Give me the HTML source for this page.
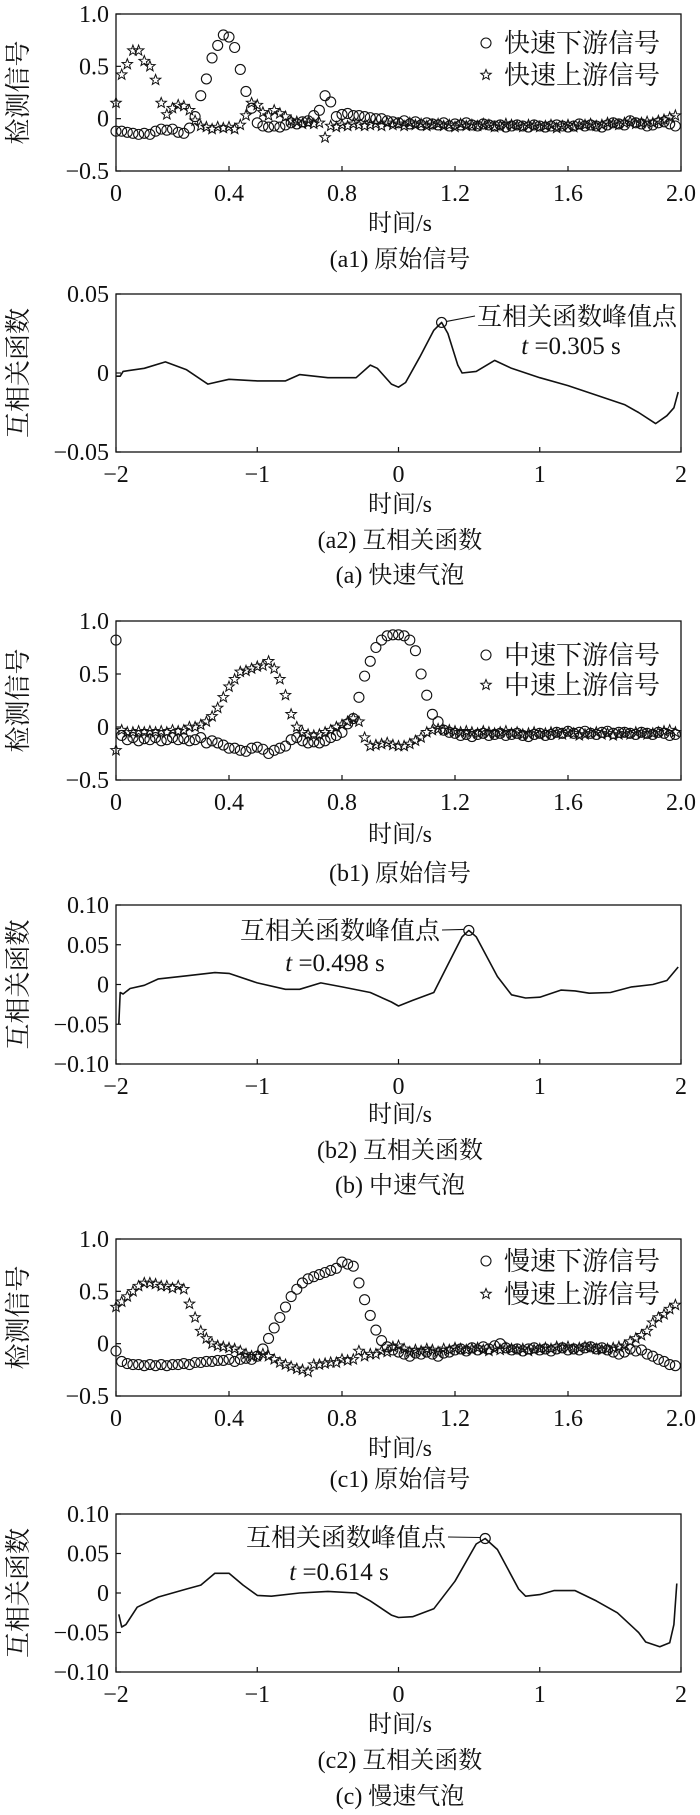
<!DOCTYPE html>
<html><head><meta charset="utf-8">
<style>
html,body{margin:0;padding:0;background:#fff;}
svg{display:block;}
text{font-family:"Liberation Serif","Noto Serif CJK SC",serif;fill:#111;}
</style></head>
<body>
<svg id="fig" width="700" height="1815" viewBox="0 0 700 1815" xmlns="http://www.w3.org/2000/svg"></svg>
<script>
// ---- data ----
const sigTimeStep = 0.02;
const fastDown = [-0.12,-0.12,-0.13,-0.14,-0.15,-0.14,-0.15,-0.12,-0.1,-0.11,-0.1,-0.13,-0.14,-0.09,
0.02,0.22,0.38,0.58,0.70,0.80,0.78,0.68,0.47,0.26,0.10,-0.04,
-0.07,-0.08,-0.07,-0.08,-0.06,-0.04,-0.05,-0.03,-0.02,
0.03,0.08,0.22,0.16,0.02,0.04,0.05,0.03,0.03,0.02,
0.01,0.0,0.0,-0.02,-0.03,-0.04,-0.02,-0.05,-0.03,-0.06,-0.04,-0.05,-0.06,-0.04,-0.07,-0.05,-0.06,-0.04,-0.06,-0.07,-0.05,-0.06,-0.07,-0.06,-0.08,-0.07,-0.06,-0.07,-0.08,-0.06,-0.07,-0.08,-0.07,-0.06,-0.07,-0.08,-0.07,-0.05,-0.07,-0.06,-0.07,-0.08,-0.06,-0.04,-0.05,-0.06,-0.02,-0.04,-0.05,-0.07,-0.06,-0.04,-0.03,-0.05,-0.07];
const fastUp = [0.15,0.42,0.52,0.65,0.65,0.55,0.5,0.37,0.15,0.04,0.1,0.13,0.12,0.08,
-0.02,-0.07,-0.08,-0.1,-0.08,-0.09,-0.08,-0.1,-0.06,0.03,0.15,0.13,
0.06,0.03,0.08,0.05,0.02,-0.02,-0.03,-0.05,-0.04,-0.05,-0.04,-0.18,-0.07,-0.08,-0.06,-0.07,-0.05,-0.06,-0.07,
-0.06,-0.05,-0.07,-0.04,-0.06,-0.05,-0.07,-0.04,-0.06,-0.05,-0.07,-0.06,-0.05,-0.07,-0.06,-0.08,-0.05,-0.07,-0.06,-0.07,-0.05,-0.06,-0.08,-0.07,-0.05,-0.06,-0.07,-0.08,-0.06,-0.07,-0.08,-0.07,-0.06,-0.09,-0.07,-0.06,-0.08,-0.07,-0.06,-0.05,-0.07,-0.06,-0.04,-0.05,-0.06,-0.04,-0.03,-0.05,-0.04,-0.03,-0.04,-0.02,-0.01,0.01,0.03];
const midDown = [0.82,-0.08,-0.12,-0.1,-0.13,-0.11,-0.12,-0.1,-0.13,-0.12,-0.1,-0.12,-0.11,-0.13,-0.12,-0.1,-0.15,-0.13,
-0.15,-0.17,-0.2,-0.2,-0.22,-0.23,-0.2,-0.19,-0.21,-0.25,-0.22,-0.2,-0.18,-0.12,-0.1,-0.13,-0.15,-0.14,-0.15,-0.13,-0.1,-0.08,-0.05,
0.03,0.08,0.28,0.48,0.62,0.75,0.82,0.86,0.87,0.87,0.86,0.82,0.72,0.5,0.3,0.12,0.05,-0.03,-0.05,
-0.06,-0.08,-0.07,-0.09,-0.07,-0.06,-0.08,-0.07,-0.06,-0.08,-0.07,-0.06,-0.08,-0.09,-0.07,-0.06,-0.08,-0.07,-0.05,-0.06,-0.04,-0.06,-0.05,-0.04,-0.06,-0.07,-0.05,-0.04,-0.06,-0.05,-0.05,-0.06,-0.07,-0.05,-0.06,-0.07,-0.05,-0.06,-0.08,-0.07];
const midUp = [-0.22,-0.03,-0.05,-0.05,-0.04,-0.05,-0.04,-0.05,-0.04,-0.05,-0.03,-0.04,-0.03,
0.0,0.0,0.02,0.05,0.1,0.18,0.28,0.38,0.45,0.52,0.53,0.55,0.57,0.58,0.62,0.55,0.45,0.3,0.12,0.0,
-0.05,-0.07,-0.08,-0.07,-0.05,-0.03,0.0,0.02,0.05,0.08,0.05,
-0.1,-0.18,-0.17,-0.16,-0.15,-0.17,-0.18,-0.18,-0.16,-0.13,-0.1,-0.05,-0.03,-0.02,-0.03,
-0.03,-0.04,-0.05,-0.04,-0.05,-0.06,-0.04,-0.05,-0.06,-0.05,-0.04,-0.06,-0.05,-0.07,-0.06,-0.05,-0.07,-0.06,-0.05,-0.06,-0.07,-0.05,-0.06,-0.08,-0.07,-0.06,-0.05,-0.07,-0.06,-0.08,-0.07,-0.06,-0.07,-0.05,-0.06,-0.07,-0.06,-0.05,-0.04,-0.03,-0.05];
const slowDown = [-0.07,-0.17,-0.19,-0.2,-0.2,-0.21,-0.2,-0.21,-0.2,-0.21,-0.2,-0.2,-0.19,-0.2,-0.18,-0.18,
-0.17,-0.17,-0.16,-0.16,-0.15,-0.17,-0.15,-0.14,-0.15,-0.12,
-0.05,0.05,0.15,0.25,0.35,0.45,0.52,0.58,0.62,0.64,0.66,0.68,0.70,0.72,0.78,0.76,0.74,0.58,0.42,0.27,0.13,0.03,-0.03,
-0.06,-0.08,-0.1,-0.12,-0.09,-0.1,-0.08,-0.1,-0.12,-0.09,-0.08,-0.06,-0.05,-0.07,-0.04,-0.06,-0.03,-0.05,-0.02,0.0,-0.04,-0.06,-0.05,-0.07,-0.05,-0.04,-0.06,-0.05,-0.07,-0.05,-0.04,-0.06,-0.05,-0.06,-0.04,-0.03,-0.05,-0.04,-0.06,-0.08,-0.1,-0.08,-0.05,-0.07,-0.06,-0.1,-0.12,-0.15,-0.17,-0.2,-0.21];
const slowUp = [0.35,0.4,0.45,0.5,0.55,0.58,0.58,0.57,0.55,0.55,0.53,0.55,0.52,
0.38,0.25,0.12,0.05,0.0,-0.02,-0.03,-0.04,-0.05,-0.07,-0.1,-0.12,-0.12,
-0.1,-0.12,-0.15,-0.18,-0.2,-0.22,-0.24,-0.25,-0.27,-0.2,-0.2,-0.19,-0.18,-0.18,-0.15,-0.16,-0.15,-0.07,
-0.12,-0.1,-0.1,-0.07,-0.08,-0.03,-0.02,-0.05,-0.08,-0.06,-0.07,-0.05,-0.06,-0.08,-0.05,-0.06,-0.04,-0.05,-0.06,-0.05,-0.04,-0.06,-0.07,-0.05,-0.06,-0.04,-0.05,-0.06,-0.05,-0.07,-0.06,-0.05,-0.04,-0.05,-0.03,-0.04,-0.03,-0.05,-0.04,-0.03,-0.04,-0.05,-0.06,-0.05,-0.04,-0.03,-0.02,0.02,0.05,0.08,0.12,0.2,0.25,0.28,0.33,0.37];

const fastLag = [-2,-1.97,-1.95,-1.8,-1.65,-1.5,-1.35,-1.2,-1.0,-0.8,-0.7,-0.5,-0.3,-0.2,-0.15,-0.05,0,0.05,0.15,0.25,0.305,0.35,0.42,0.45,0.55,0.68,0.8,1.0,1.2,1.4,1.6,1.7,1.82,1.9,1.95,1.98];
const fastCorr = [-0.002,-0.002,0.001,0.003,0.007,0.002,-0.007,-0.004,-0.005,-0.005,-0.001,-0.003,-0.003,0.005,0.003,-0.007,-0.009,-0.006,0.01,0.027,0.032,0.025,0.005,0.0,0.001,0.008,0.003,-0.003,-0.008,-0.014,-0.02,-0.025,-0.032,-0.027,-0.022,-0.012];
const midLag = [-1.98,-1.97,-1.95,-1.9,-1.8,-1.7,-1.5,-1.3,-1.2,-1.0,-0.8,-0.7,-0.55,-0.4,-0.2,-0.05,0,0.1,0.25,0.35,0.45,0.498,0.55,0.7,0.8,0.9,1.0,1.15,1.25,1.35,1.5,1.65,1.8,1.9,1.98];
const midCorr = [-0.05,-0.01,-0.012,-0.005,-0.001,0.007,0.011,0.015,0.014,0.002,-0.006,-0.006,0.002,-0.003,-0.01,-0.022,-0.027,-0.02,-0.01,0.025,0.06,0.068,0.06,0.01,-0.013,-0.017,-0.016,-0.007,-0.008,-0.011,-0.01,-0.003,0.0,0.005,0.022];
const slowLag = [-1.98,-1.96,-1.93,-1.85,-1.7,-1.5,-1.4,-1.3,-1.2,-1.1,-1.0,-0.9,-0.7,-0.5,-0.3,-0.2,-0.05,0,0.1,0.25,0.4,0.55,0.614,0.7,0.85,0.9,1.0,1.1,1.25,1.4,1.55,1.7,1.75,1.85,1.92,1.95,1.97];
const slowCorr = [-0.027,-0.043,-0.04,-0.018,-0.005,0.005,0.01,0.025,0.025,0.01,-0.003,-0.004,0.0,0.002,0.0,-0.01,-0.028,-0.031,-0.03,-0.02,0.015,0.062,0.069,0.055,0.005,-0.004,-0.002,0.003,0.003,-0.01,-0.025,-0.05,-0.062,-0.068,-0.063,-0.04,0.012];

const sigTicks = ["0","0.4","0.8","1.2","1.6","2.0"];
const sigTickVals = [0,0.4,0.8,1.2,1.6,2.0];
const sigYTicks = ["1.0","0.5","0","\u22120.5"];
const sigYVals = [1.0,0.5,0,-0.5];
const corrXTicks = ["\u22122","\u22121","0","1","2"];
const corrXVals = [-2,-1,0,1,2];

// ---- drawing helpers ----
const NS = "http://www.w3.org/2000/svg";
const svg = document.getElementById('fig');
function el(tag, attrs, parent, txt){
  const e = document.createElementNS(NS, tag);
  for (const k in attrs) e.setAttribute(k, attrs[k]);
  if (txt !== undefined) e.textContent = txt;
  (parent||svg).appendChild(e);
  return e;
}
const L = 116, R = 681;

function axesBox(g, top, bot, x0, x1, y0, y1, xVals, xLabs, yVals, yLabs){
  const sx = v => L + (v - x0) / (x1 - x0) * (R - L);
  const sy = v => bot - (v - y0) / (y1 - y0) * (bot - top);
  const box = el('rect', {x:L, y:top, width:R-L, height:bot-top, fill:'none', stroke:'#111', 'stroke-width':1.3}, g);
  
  
  xVals.forEach((v,i) => {
    const x = sx(v);
    const t = el('line', {x1:x, x2:x, y1:bot, y2:bot-5, stroke:'#111', 'stroke-width':1.2}, g);
    
    
    const lb = el('text', {x:x, y:bot+30, 'font-size':24, 'text-anchor':'middle'}, g, xLabs[i]);
    
    
  });
  yVals.forEach((v,i) => {
    const y = sy(v);
    const t = el('line', {x1:L, x2:L+5, y1:y, y2:y, stroke:'#111', 'stroke-width':1.2}, g);
    
    
    const lb = el('text', {x:L-7, y:y+8, 'font-size':24, 'text-anchor':'end'}, g, yLabs[i]);
    
    
  });
  return {sx, sy};
}
function starPath(cx, cy, r){
  let d = '';
  for (let k=0;k<10;k++){
    const a = -Math.PI/2 + k*Math.PI/5;
    const rr = k%2===0 ? r : r*0.42;
    d += (k===0?'M':'L') + (cx + rr*Math.cos(a)).toFixed(1) + ' ' + (cy + rr*Math.sin(a)).toFixed(1);
  }
  return d + 'Z';
}
function labels(g, top, bot, ytitle, xlabY, capY, cap){
  const cy = (top+bot)/2;
  const yt = el('text', {x:0, y:0, 'font-size':26, 'text-anchor':'middle', transform:`translate(27,${cy}) rotate(-90)`}, g, ytitle);
  
  
  const xt = el('text', {x:400, y:xlabY, 'font-size':24, 'text-anchor':'middle'}, g, '时间/s');
  
  
  const c = el('text', {x:400, y:capY, 'font-size':24, 'text-anchor':'middle'}, g, cap);
  
  
}
function signalPlot(name, top, bot, down, up, legDown, legUp, leg1Y, leg2Y, xlabY, capY, cap){
  const g = el('g', {}, svg);
  
  
  const {sx, sy} = axesBox(g, top, bot, 0, 2, -0.5, 1.0, sigTickVals, sigTicks, sigYVals, sigYTicks);
  down.forEach((v,i) => {
    const c = el('circle', {cx:sx(i*sigTimeStep), cy:sy(v), r:5, fill:'none', stroke:'#111', 'stroke-width':1.1}, g);
    
    
  });
  up.forEach((v,i) => {
    const s = el('path', {d:starPath(sx(i*sigTimeStep), sy(v), 5.5), fill:'none', stroke:'#111', 'stroke-width':1}, g);
    
    
  });
  const lg = el('g', {}, g);
  
  
  const lc = el('circle', {cx:486, cy:leg1Y, r:5, fill:'none', stroke:'#111', 'stroke-width':1.1}, lg);
  
  
  const lt1 = el('text', {x:504, y:leg1Y+9, 'font-size':26}, lg, legDown);
  
  
  const ls = el('path', {d:starPath(486, leg2Y, 5.5), fill:'none', stroke:'#111', 'stroke-width':1}, lg);
  
  
  const lt2 = el('text', {x:504, y:leg2Y+9, 'font-size':26}, lg, legUp);
  
  
  labels(g, top, bot, '检测信号', xlabY, capY, cap);
}
function corrPlot(name, top, bot, ymin, ymax, yVals, yLabs, lag, corr, peakT, annEndX, annY, tY, tText, xlabY, capY, cap){
  const g = el('g', {}, svg);
  
  
  const {sx, sy} = axesBox(g, top, bot, -2, 2, ymin, ymax, corrXVals, corrXTicks, yVals, yLabs);
  const d = lag.map((t,i) => (i?'L':'M') + sx(t).toFixed(1) + ' ' + sy(corr[i]).toFixed(1)).join(' ');
  const p = el('path', {d:d, fill:'none', stroke:'#111', 'stroke-width':1.6, 'stroke-linejoin':'round'}, g);
  
  
  const pi = lag.indexOf(peakT);
  const px = sx(peakT), py = sy(corr[pi]);
  const pc = el('circle', {cx:px, cy:py, r:5, fill:'none', stroke:'#111', 'stroke-width':1.2}, g);
  
  
  const isRight = annEndX > px;
  const ann = el('text', {x:annEndX, y:annY+9, 'font-size':25, 'text-anchor':'end'}, g, '互相关函数峰值点');
  
  
  const lineEnd = isRight ? annEndX - 8*25 - 2 : annEndX + 2;
  const ld = el('line', {x1: isRight ? px+5 : px-5, y1:py-1, x2:lineEnd, y2:annY, stroke:'#111', 'stroke-width':1.1}, g);
  
  
  const tt = el('text', {x:tY[0], y:tY[1]+9, 'font-size':25, 'text-anchor':'middle'}, g);
  
  
  el('tspan', {'font-style':'italic'}, tt, 't');
  el('tspan', {}, tt, ' =' + tText);
  labels(g, top, bot, '互相关函数', xlabY, capY, cap);
}
function caption(y, txt){
  const c = el('text', {x:400, y:y, 'font-size':24, 'text-anchor':'middle'}, svg, txt);
  
  
}

signalPlot('fast-signal-chart', 14, 171, fastDown, fastUp, '快速下游信号', '快速上游信号', 43, 75, 231, 267, '(a1) 原始信号');
corrPlot('fast-correlation-chart', 294, 452, -0.05, 0.05, [0.05,0,-0.05], ['0.05','0','\u22120.05'], fastLag, fastCorr, 0.305, 677, 316, [571,345], '0.305 s', 512, 548, '(a2) 互相关函数');
caption(583, '(a) 快速气泡');

signalPlot('mid-signal-chart', 621, 780, midDown, midUp, '中速下游信号', '中速上游信号', 655, 685, 842, 881, '(b1) 原始信号');
corrPlot('mid-correlation-chart', 905, 1064, -0.1, 0.1, [0.1,0.05,0,-0.05,-0.1], ['0.10','0.05','0','\u22120.05','\u22120.10'], midLag, midCorr, 0.498, 440, 930, [335,962], '0.498 s', 1122, 1158, '(b2) 互相关函数');
caption(1193, '(b) 中速气泡');

signalPlot('slow-signal-chart', 1239, 1396, slowDown, slowUp, '慢速下游信号', '慢速上游信号', 1261, 1294, 1456, 1487, '(c1) 原始信号');
corrPlot('slow-correlation-chart', 1514, 1672, -0.1, 0.1, [0.1,0.05,0,-0.05,-0.1], ['0.10','0.05','0','\u22120.05','\u22120.10'], slowLag, slowCorr, 0.614, 446, 1537, [339,1571], '0.614 s', 1732, 1768, '(c2) 互相关函数');
caption(1804, '(c) 慢速气泡');
</script>
</body></html>
